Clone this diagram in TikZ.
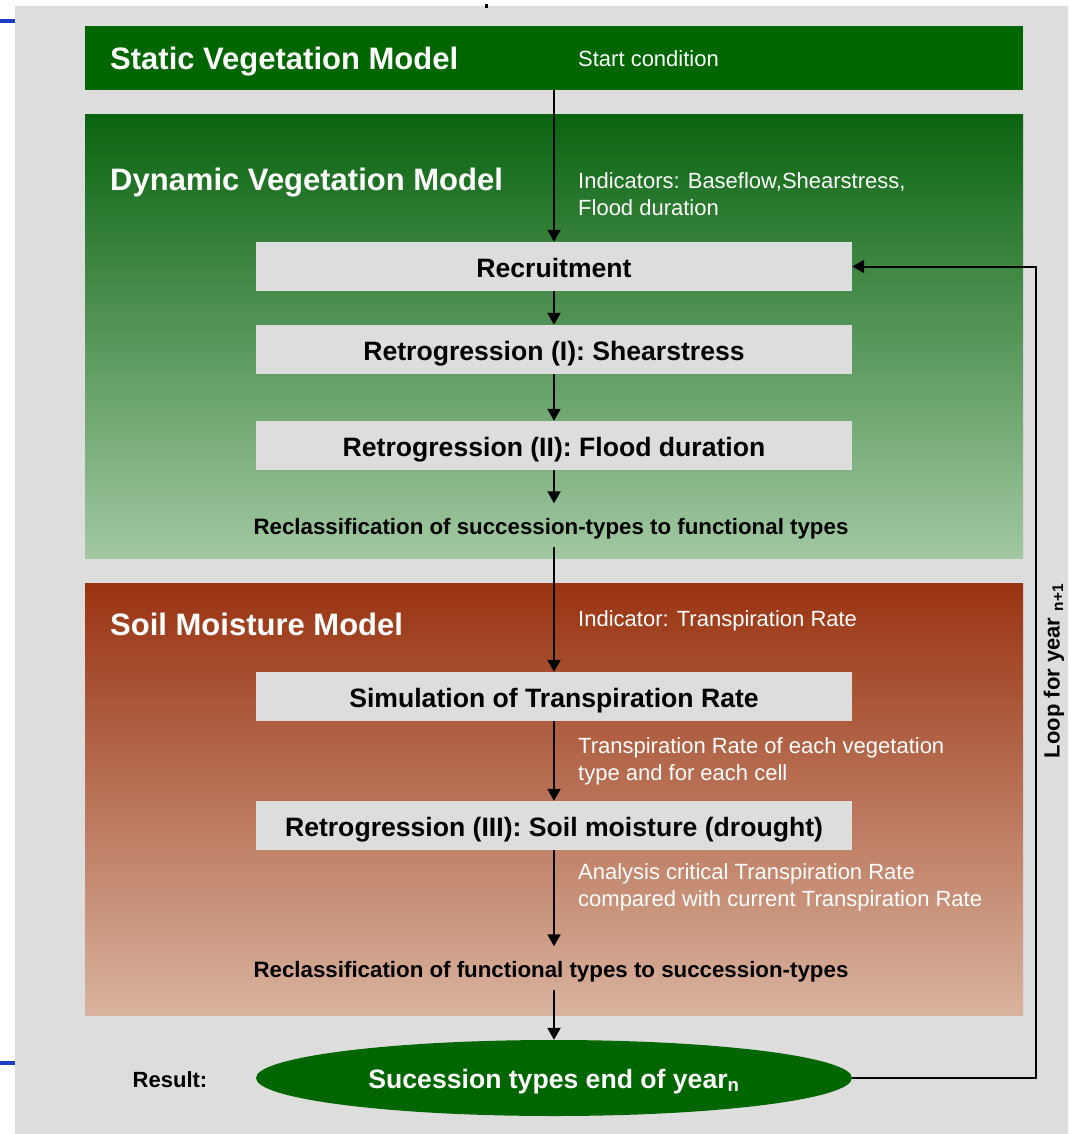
\documentclass[tikz,border=0pt]{standalone}
\usepackage{fontspec}
\setmainfont{Liberation Sans}
\usetikzlibrary{positioning, shapes.geometric, arrows.meta}

\definecolor{bggrey}{HTML}{DDDDDD}
\definecolor{vegdark}{HTML}{006600}
\definecolor{vegtop}{RGB}{10,100,16}
\definecolor{veglow}{RGB}{162,200,162}
\definecolor{soiltop}{RGB}{153,51,17}
\definecolor{soillow}{RGB}{217,179,159}
\definecolor{markblue}{RGB}{30,60,200}

\begin{document}
\begin{tikzpicture}[x=1pt, y=-1pt,
	panel/.style={rectangle, anchor=north west, inner sep=0pt, outer sep=0pt, minimum width=938pt},
	head/.style={anchor=base west, inner sep=0pt, text=white, font=\bfseries\fontsize{31}{36}\selectfont},
	note/.style={anchor=base west, inner sep=0pt, text=white, align=left, font=\fontsize{22}{26.7}\selectfont},
	stepbox/.style={fill=bggrey, minimum width=596pt, minimum height=49pt, inner sep=0pt, text height=24pt, text depth=2pt, font=\bfseries\fontsize{26.6}{30}\selectfont},
	reclass/.style={inner sep=0pt, minimum height=43pt, text height=20pt, text depth=1pt, font=\bfseries\fontsize{22.3}{26}\selectfont},
	flow/.style={line width=2pt, -{Triangle[length=12pt, width=13pt]}}]
		\useasboundingbox (0,0) rectangle (1068,1134);
		\fill[bggrey] (15,6) rectangle (1068,1134);
		\fill[markblue] (0,19) rectangle (15,23);
		\fill[markblue] (0,1061) rectangle (15,1065);
		\fill (485,4) rectangle (488,8);

		% the three model panels
		\node[panel, fill=vegdark, minimum height=64pt] (static) at (85,26) {};
		\node[panel, top color=vegtop, bottom color=veglow, minimum height=443pt] (dynamic) at (85,115) {};
		\node[panel, top color=soiltop, bottom color=soillow, minimum height=432pt] (soil) at (85,583) {};

		% base anchor of a two-line note sits on its last line
		\node[head] (statichead) at (110,70) {Static Vegetation Model};
		\node[note] (startnote) at (578,67) {Start condition};
		\node[head] (dynhead) at (110,190) {Dynamic Vegetation Model};
		\node[note] (dynnote) at (578,215) {Indicators: Baseflow,Shearstress,\\Flood duration};
		\node[head] (soilhead) at (110,635) {Soil Moisture Model};
		\node[note] (soilnote) at (578,626) {Indicator: Transpiration Rate};
		\node[note] (simnote) at (578,780) {Transpiration Rate of each vegetation\\type and for each cell};
		\node[note] (droughtnote) at (578,906) {Analysis critical Transpiration Rate\\compared with current Transpiration Rate};

		% steps of one year
		\node[stepbox] (recruit) at (554,266.5) {Recruitment};
		\node[stepbox] (retro1) at (554,349.5) {Retrogression (I): Shearstress};
		\node[stepbox] (retro2) at (554,445.5) {Retrogression (II): Flood duration};
		\node[reclass] (reclass1) at (551,525) {Reclassification of succession-types to functional types};
		\node[stepbox] (sim) at (554,696.5) {Simulation of Transpiration Rate};
		\node[stepbox] (retro3) at (554,825.5) {Retrogression (III): Soil moisture (drought)};
		\node[reclass] (reclass2) at (551,968) {Reclassification of functional types to succession-types};
		\node[ellipse, fill=vegdark, minimum width=596pt, minimum height=76pt, inner sep=0pt, text height=22pt, text depth=2pt, text=white, font=\bfseries\fontsize{26.6}{30}\selectfont] (result) at (554,1078) {Sucession types end of year\textsubscript{n}};
		\node[font=\bfseries\fontsize{22}{26}\selectfont] (resultlabel) at (170,1080) {Result:};
		\node[rotate=90, font=\bfseries\fontsize{22}{26}\selectfont] (looplabel) at (1054,671) {Loop for year \textsubscript{n+1}};

		\draw[flow] (static) -- (recruit);
		\draw[flow] (recruit) -- (retro1);
		\draw[flow] (retro1) -- (retro2);
		\draw[flow] (retro2) -- (retro2 |- reclass1.north);
		\draw[flow] (retro2 |- reclass1.south) -- (sim);
		\draw[flow] (sim) -- (retro3);
		\draw[flow] (retro3) -- (retro3 |- reclass2.north);
		\draw[flow] (retro3 |- reclass2.south) -- (result);
		\coordinate (turn) at (1036,1078);
		\draw[flow] (result) -- (turn) |- (recruit);
	\end{tikzpicture}
\end{document}
